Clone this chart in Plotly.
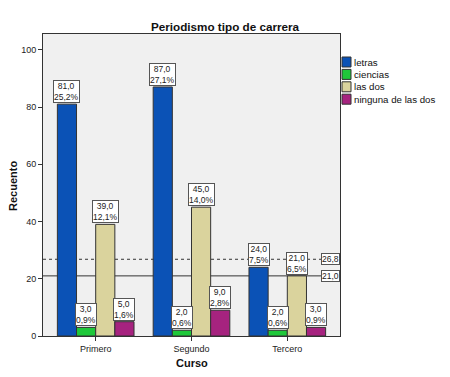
import plotly.graph_objects as go

categories = ["Primero", "Segundo", "Tercero"]
series_names = ["letras", "ciencias", "las dos", "ninguna de las dos"]
letras = [81, 87, 24]
ciencias = [3, 2, 2]
las_dos = [39, 45, 21]
ninguna = [5, 9, 3]
pct_letras = ["25,2%", "27,1%", "7,5%"]
pct_ciencias = ["0,9%", "0,6%", "0,6%"]
pct_las_dos = ["12,1%", "14,0%", "6,5%"]
pct_ninguna = ["1,6%", "2,8%", "0,9%"]
ref_solid = 21.0
ref_dashed = 26.8

series = [letras, ciencias, las_dos, ninguna]
pcts = [pct_letras, pct_ciencias, pct_las_dos, pct_ninguna]
colors = ["#0b52b6", "#1fc83a", "#dad39d", "#a6237f"]

FONT = "Liberation Sans, Arial, sans-serif"
W, H = 450, 377
L, R, T, B = 43, 110, 34, 41
PW, PH = W - L - R, H - T - B


def px_x(px):
    return (px - L) / PW


def px_y(py):
    return (H - B - py) / PH


fig = go.Figure()
for name, vals, col in zip(series_names, series, colors):
    fig.add_trace(go.Bar(
        x=categories, y=vals, name=name, showlegend=False,
        marker=dict(color=col, line=dict(color="#333333", width=1)),
    ))

annotations = []
shapes = []
nser = len(series)
bw = 0.8 / nser
for s, (vals, pc) in enumerate(zip(series, pcts)):
    off = (s - (nser - 1) / 2) * bw
    for i, v in enumerate(vals):
        annotations.append(dict(
            x=i + off, y=v, xref="x", yref="y",
            text=f"{v:.1f}".replace(".", ",") + "<br>" + pc[i],
            showarrow=False, yanchor="bottom", yshift=1,
            font=dict(size=8.5, color="#222222", family=FONT),
            bgcolor="white", bordercolor="#555555", borderwidth=1, borderpad=0,
        ))

for val in [ref_dashed, ref_solid]:
    annotations.append(dict(
        x=1, y=val, xref="paper", yref="y",
        text=f"{val:.1f}".replace(".", ","),
        showarrow=False, xanchor="right", yanchor="middle",
        font=dict(size=8.5, color="#222222", family=FONT),
        bgcolor="white", bordercolor="#555555", borderwidth=1, borderpad=0,
    ))

shapes += [
    dict(type="line", xref="paper", yref="y", x0=0, x1=1, y0=ref_dashed, y1=ref_dashed,
         line=dict(color="#333333", width=1, dash="dot"), layer="below"),
    dict(type="line", xref="paper", yref="y", x0=0, x1=1, y0=ref_solid, y1=ref_solid,
         line=dict(color="#333333", width=1), layer="below"),
]

# custom legend
for k, (name, col) in enumerate(zip(series_names, colors)):
    cy = 62 + k * 12.4
    shapes.append(dict(type="rect", xref="paper", yref="paper",
                       x0=px_x(342), x1=px_x(351), y0=px_y(cy - 5), y1=px_y(cy + 5),
                       fillcolor=col, line=dict(color="#333333", width=1)))
    annotations.append(dict(x=px_x(352), y=px_y(cy), xref="paper", yref="paper",
                            text=name, showarrow=False, xanchor="left", yanchor="middle",
                            font=dict(size=9.7, family=FONT, color="#111111")))

# axis titles as positioned text
annotations.append(dict(x=px_x(192), y=px_y(363), xref="paper", yref="paper",
                        text="<b>Curso</b>", showarrow=False, xanchor="center", yanchor="middle",
                        font=dict(size=11, family=FONT, color="#111111")))
annotations.append(dict(x=px_x(13), y=px_y(186), xref="paper", yref="paper",
                        text="<b>Recuento</b>", showarrow=False, xanchor="center", yanchor="middle",
                        textangle=-90,
                        font=dict(size=11, family=FONT, color="#111111")))

fig.update_layout(
    width=W, height=H,
    margin=dict(l=L, r=R, t=T, b=B, autoexpand=False),
    paper_bgcolor="white", plot_bgcolor="#f0f0f0",
    barmode="group", bargap=0.2, bargroupgap=0,
    font=dict(family=FONT, size=9, color="#222222"),
    title=dict(text="<b>Periodismo tipo de carrera</b>", x=0.5, xref="container",
               xanchor="center", y=1 - 27 / H, yanchor="middle", yref="container",
               font=dict(size=11.7, family=FONT, color="#111111")),
    showlegend=False,
    annotations=annotations,
    shapes=shapes,
)

fig.update_xaxes(
    type="category", range=[-0.55, 2.55], automargin=False,
    showline=True, linecolor="#333333", linewidth=1, mirror=True,
    ticks="outside", ticklen=4, tickcolor="#333333",
    tickfont=dict(size=9, family=FONT),
    showgrid=False,
)
fig.update_yaxes(
    range=[0, 105.5], tickvals=[0, 20, 40, 60, 80, 100], automargin=False,
    showline=True, linecolor="#333333", linewidth=1, mirror=True,
    ticks="outside", ticklen=4, tickcolor="#333333",
    tickfont=dict(size=9, family=FONT),
    showgrid=False, zeroline=False,
)

fig.write_html("out.html")
